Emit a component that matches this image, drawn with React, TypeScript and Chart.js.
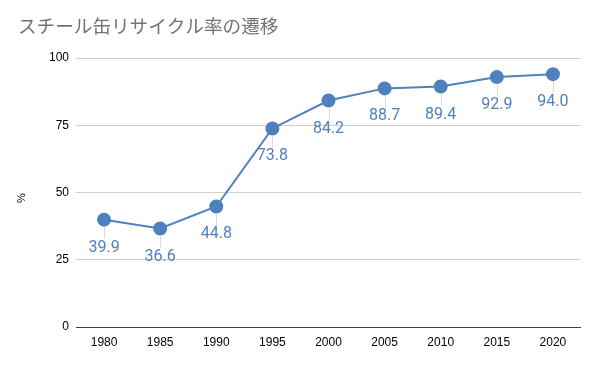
import React, { useEffect, useRef } from "react";
import { Chart, registerables } from "chart.js";
Chart.register(...registerables);

const TITLE = "スチール缶リサイクル率の遷移";
const Y_TITLE = "%";
const years = ["1980", "1985", "1990", "1995", "2000", "2005", "2010", "2015", "2020"];
const rates = [39.9, 36.6, 44.8, 73.8, 84.2, 88.7, 89.4, 92.9, 94.0];
const yTicks = [0, 25, 50, 75, 100];

const BLUE = "#4f81bd";

const decor = {
  id: "decor",
  afterDatasetsDraw(chart: any) {
    const ctx = chart.ctx;
    const meta = chart.getDatasetMeta(0);
    ctx.save();
    meta.data.forEach((pt: any, i: number) => {
      const x = pt.x, y = pt.y;
      ctx.strokeStyle = "#d9d9d9";
      ctx.lineWidth = 1;
      ctx.beginPath();
      ctx.moveTo(Math.round(x) + 0.5, y + 7);
      ctx.lineTo(Math.round(x) + 0.5, y + 19);
      ctx.stroke();
      ctx.fillStyle = BLUE;
      ctx.font = "16px Roboto, 'Noto Sans', sans-serif";
      ctx.textAlign = "center";
      ctx.textBaseline = "middle";
      ctx.fillText(rates[i].toFixed(1), x, y + 28);
    });
    ctx.restore();
  },
  afterDraw(chart: any) {
    const ctx = chart.ctx;
    ctx.save();
    ctx.fillStyle = "#737373";
    ctx.font = "18.6px 'Noto Sans CJK JP', sans-serif";
    ctx.textAlign = "left";
    ctx.textBaseline = "middle";
    ctx.fillText(TITLE, 18, 26);
    ctx.translate(22, 198);
    ctx.rotate(-Math.PI / 2);
    ctx.fillStyle = "#000";
    ctx.font = "11px 'Liberation Sans', sans-serif";
    ctx.textAlign = "center";
    ctx.fillText(Y_TITLE, 0, 0);
    ctx.restore();
  },
};

export default function App() {
  const ref = useRef<HTMLCanvasElement>(null);
  useEffect(() => {
    const chart = new Chart(ref.current!, {
      type: "line",
      data: {
        labels: years,
        datasets: [
          {
            data: rates,
            borderColor: BLUE,
            backgroundColor: BLUE,
            borderWidth: 2,
            pointRadius: 6,
            pointHoverRadius: 6,
            pointBackgroundColor: BLUE,
            pointBorderColor: BLUE,
            tension: 0,
          },
        ],
      },
      options: {
        animation: false,
        responsive: false,
        maintainAspectRatio: false,
        layout: { padding: { top: 58, right: 19, left: 0, bottom: 0 } },
        plugins: { legend: { display: false }, tooltip: { enabled: false }, title: { display: false } },
        scales: {
          x: {
            offset: true,
            grid: { display: false, drawTicks: false },
            border: { display: false },
            ticks: { color: "#000", font: { family: "'Liberation Sans', sans-serif", size: 12 }, padding: 8, maxRotation: 0 },
            afterFit(scale: any) { scale.height = 41; },
          },
          y: {
            min: 0,
            max: 100,
            afterBuildTicks(scale: any) { scale.ticks = yTicks.map((v) => ({ value: v })); },
            grid: {
              color: (c: any) => (c.tick && c.tick.value === 0 ? "#404040" : "#d0d0d0"),
              lineWidth: 1,
              drawTicks: false,
            },
            border: { display: false },
            ticks: { color: "#000", font: { family: "'Liberation Sans', sans-serif", size: 12 }, padding: 7 },
            afterFit(scale: any) { scale.width = 76; },
          },
        },
      },
      plugins: [decor],
    });
    return () => chart.destroy();
  }, []);
  return (
    <div style={{ position: "fixed", left: 0, top: 0, width: 600, height: 368, background: "#fff" }}>
      <canvas ref={ref} width={600} height={368} style={{ width: 600, height: 368 }} />
    </div>
  );
}
